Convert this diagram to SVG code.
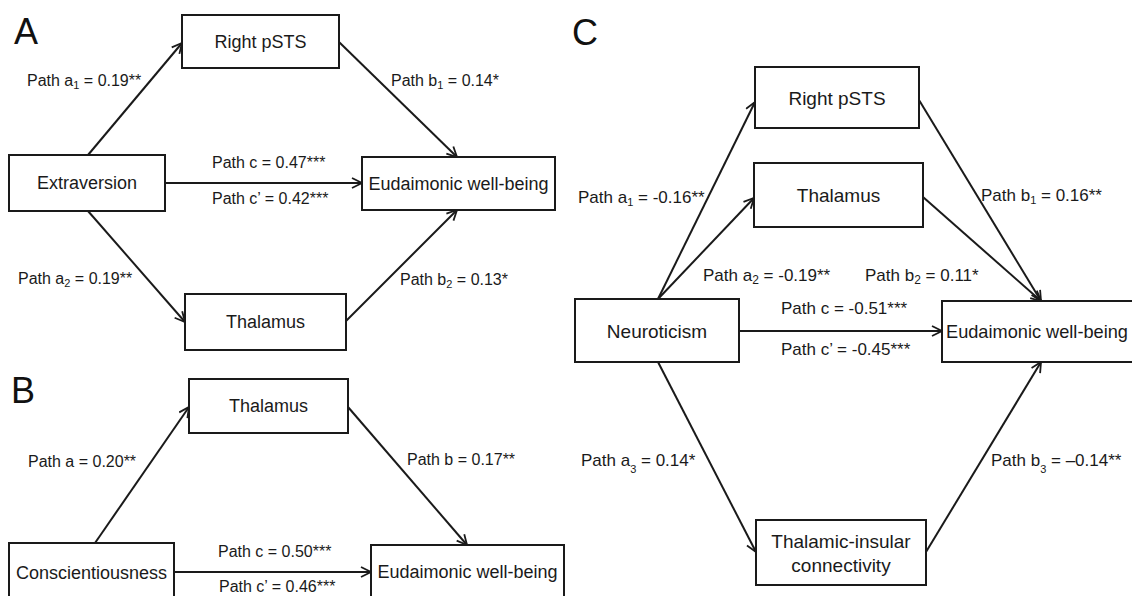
<svg xmlns="http://www.w3.org/2000/svg" width="1132" height="596" viewBox="0 0 1132 596">
<style>
.box{fill:#fff;stroke:#1a1a1a;stroke-width:2}
.n{font-family:"Liberation Sans",Arial,sans-serif;font-size:18px;fill:#1a1a1a;text-anchor:middle}
.nc{font-family:"Liberation Sans",Arial,sans-serif;font-size:19px;fill:#1a1a1a;text-anchor:middle}
.l{font-family:"Liberation Sans",Arial,sans-serif;font-size:16px;fill:#1a1a1a}
.lc{font-family:"Liberation Sans",Arial,sans-serif;font-size:17px;fill:#1a1a1a}
.p{font-family:"Liberation Sans",Arial,sans-serif;font-size:36px;fill:#111}
.e{stroke:#1a1a1a;stroke-width:2;fill:none;marker-end:url(#arr)}
</style>
<defs>
<marker id="arr" viewBox="0 0 12 12" refX="11" refY="6" markerWidth="12" markerHeight="12" orient="auto" markerUnits="userSpaceOnUse">
<path d="M1,1 L11,6 L1,11" fill="none" stroke="#1a1a1a" stroke-width="1.8"/>
</marker>
</defs>
<rect width="1132" height="596" fill="#fff"/>

<text class="p" x="14" y="44">A</text>
<text class="p" x="11" y="403">B</text>
<text class="p" x="572" y="45">C</text>

<g id="connectors">
<!-- A -->
<line class="e" x1="88" y1="155" x2="182" y2="43"/>
<line class="e" x1="339" y1="42" x2="457" y2="157"/>
<line class="e" x1="165" y1="183" x2="362" y2="183"/>
<line class="e" x1="88" y1="211" x2="185" y2="322"/>
<line class="e" x1="346" y1="321" x2="457" y2="210"/>
<!-- B -->
<line class="e" x1="95" y1="543" x2="189" y2="407"/>
<line class="e" x1="348" y1="407" x2="467" y2="545"/>
<line class="e" x1="174" y1="572" x2="371" y2="572"/>
<!-- C -->
<line class="e" x1="658" y1="299" x2="755" y2="102"/>
<line class="e" x1="658" y1="299" x2="754" y2="198"/>
<line class="e" x1="919" y1="100" x2="1041" y2="301"/>
<line class="e" x1="923" y1="197" x2="1041" y2="301"/>
<line class="e" x1="739" y1="331" x2="942" y2="331"/>
<line class="e" x1="658" y1="362" x2="756" y2="552"/>
<line class="e" x1="926" y1="552" x2="1041" y2="362"/>
</g>

<g id="labels">
<text class="l" x="27" y="86">Path a<tspan font-size="11" dy="3">1</tspan><tspan dy="-3"> = 0.19**</tspan></text>
<text class="l" x="391" y="86">Path b<tspan font-size="11" dy="3">1</tspan><tspan dy="-3"> = 0.14*</tspan></text>
<text class="l" x="212" y="168">Path c = 0.47***</text>
<text class="l" x="212" y="204">Path c’ = 0.42***</text>
<text class="l" x="18" y="284">Path a<tspan font-size="11" dy="3">2</tspan><tspan dy="-3"> = 0.19**</tspan></text>
<text class="l" x="400" y="285">Path b<tspan font-size="11" dy="3">2</tspan><tspan dy="-3"> = 0.13*</tspan></text>

<text class="l" x="28" y="467">Path a = 0.20**</text>
<text class="l" x="407" y="465">Path b = 0.17**</text>
<text class="l" x="218" y="557">Path c = 0.50***</text>
<text class="l" x="219" y="592">Path c’ = 0.46***</text>

<text class="lc" x="578" y="203">Path a<tspan font-size="11" dy="3">1</tspan><tspan dy="-3"> = -0.16**</tspan></text>
<text class="lc" x="981" y="201">Path b<tspan font-size="11" dy="3">1</tspan><tspan dy="-3"> = 0.16**</tspan></text>
<text class="lc" x="703" y="281">Path a<tspan font-size="12" dy="3">2</tspan><tspan dy="-3"> = -0.19**</tspan></text>
<text class="lc" x="865" y="281">Path b<tspan font-size="12" dy="3">2</tspan><tspan dy="-3"> = 0.11*</tspan></text>
<text class="lc" x="781" y="314">Path c = -0.51***</text>
<text class="lc" x="781" y="355">Path c’ = -0.45***</text>
<text class="lc" x="581" y="466">Path a<tspan font-size="11" dy="7">3</tspan><tspan dy="-7"> = 0.14*</tspan></text>
<text class="lc" x="991" y="466">Path b<tspan font-size="11" dy="7">3</tspan><tspan dy="-7"> = –0.14**</tspan></text>
</g>

<g id="nodeA_pSTS"><rect class="box" x="182" y="15" width="157" height="53"/><text class="n" x="260.5" y="48">Right pSTS</text></g>
<g id="nodeA_extraversion"><rect class="box" x="9" y="155" width="156" height="56"/><text class="n" x="87" y="189">Extraversion</text></g>
<g id="nodeA_eud"><rect class="box" x="362" y="157" width="193" height="53"/><text class="n" x="458.5" y="190">Eudaimonic well-being</text></g>
<g id="nodeA_thalamus"><rect class="box" x="185" y="294" width="161" height="56"/><text class="n" x="265.5" y="328">Thalamus</text></g>

<g id="nodeB_thalamus"><rect class="box" x="189" y="379" width="159" height="54"/><text class="n" x="268.5" y="412">Thalamus</text></g>
<g id="nodeB_consc"><rect class="box" x="9" y="543" width="165" height="56"/><text class="n" x="91.5" y="579">Conscientiousness</text></g>
<g id="nodeB_eud"><rect class="box" x="371" y="545" width="193" height="56"/><text class="n" x="467.5" y="578">Eudaimonic well-being</text></g>

<g id="nodeC_pSTS"><rect class="box" x="755" y="67" width="164" height="61"/><text class="nc" x="837" y="105">Right pSTS</text></g>
<g id="nodeC_thalamus"><rect class="box" x="754" y="163" width="169" height="64"/><text class="nc" x="838.5" y="202">Thalamus</text></g>
<g id="nodeC_neuro"><rect class="box" x="575" y="299" width="164" height="63"/><text class="nc" x="657" y="338">Neuroticism</text></g>
<g id="nodeC_eud"><rect class="box" x="942" y="301" width="200" height="61"/><text class="nc" x="946" y="338" style="text-anchor:start;font-size:18.2px">Eudaimonic well-being</text></g>
<g id="nodeC_thal_ins"><rect class="box" x="756" y="520" width="170" height="65"/><text class="nc" x="841" y="548">Thalamic-insular</text><text class="nc" x="841" y="572">connectivity</text></g>
</svg>
